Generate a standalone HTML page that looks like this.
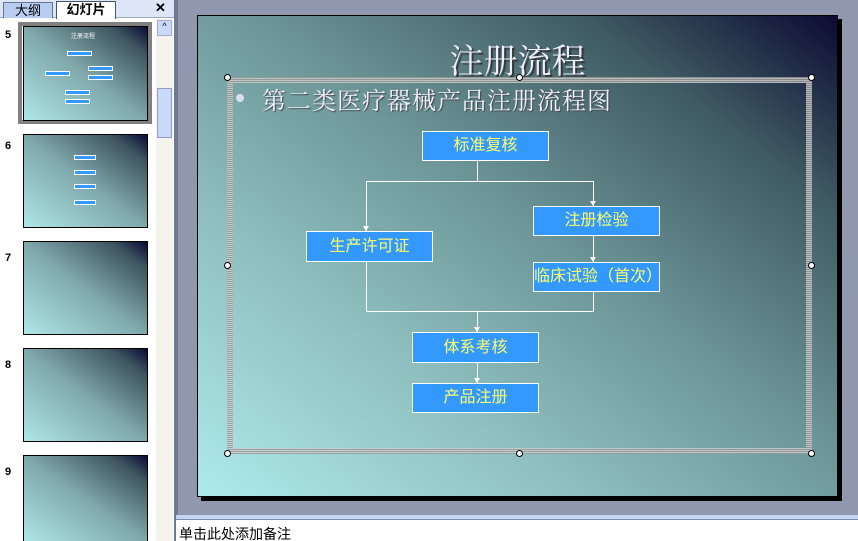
<!DOCTYPE html>
<html><head><meta charset="utf-8"><style>
*{margin:0;padding:0;box-sizing:border-box}
html,body{width:858px;height:541px;overflow:hidden}
body{position:relative;background:#8f98ae;font-family:"Liberation Sans","Noto Sans CJK SC",sans-serif}
.abs{position:absolute}
.thumb{position:absolute;left:23px;width:125px;background:linear-gradient(to top right,#aee6e6 0%,#7fa8aa 50%,#3e5560 85%,#0a0a35 100%);border:1px solid #000;overflow:hidden}
.num{position:absolute;left:5px;font-size:11px;font-weight:bold;color:#000}
.box{position:absolute;background:#3399ff;border:1px solid #fff;color:#ffff66;font-size:16px;text-align:center;font-family:"Liberation Sans","WenQuanYi Zen Hei",sans-serif}
.ln{position:absolute;background:#fff}
.ar{position:absolute;width:0;height:0;border-left:3px solid transparent;border-right:3px solid transparent;border-top:5px solid #fff}
.h{position:absolute;width:7px;height:7px;border-radius:50%;background:#fff;border:1px solid #000}
.tb{position:absolute;background:#3399ff;border:1px solid #fff;height:5px}
</style></head><body>
<!-- left panel -->
<div class="abs" style="left:0;top:0;width:174px;height:541px;background:#fff"></div>
<div class="abs" style="left:0;top:0;width:174px;height:18px;background:#dce6f7;border-bottom:1px solid #9ab"></div>
<div class="abs" style="left:3px;top:2px;width:50px;height:16px;background:#b8cdf0;border:1px solid #678;border-bottom:none;font-size:13px;text-align:center;line-height:15px">大纲</div>
<div class="abs" style="left:56px;top:1px;width:60px;height:18px;background:#fff;border:1px solid #456;border-bottom:none;font-size:13px;font-weight:bold;text-align:center;line-height:16px">幻灯片</div>
<div class="abs" style="left:155px;top:0;font-size:13px;font-weight:bold">✕</div>
<div class="abs" style="left:156px;top:19px;width:17px;height:522px;background:#f4f3ee"></div>
<div class="abs" style="left:157px;top:20px;width:15px;height:16px;background:#c8daf8;border:1px solid #aac;font-size:9px;text-align:center">^</div>
<div class="abs" style="left:157px;top:88px;width:15px;height:50px;background:#c8daf8;border:1px solid #99b"></div>
<div class="abs" style="left:174px;top:0;width:4px;height:541px;background:#6f7894"></div>

<div class="abs" style="left:18px;top:22px;width:134px;height:102px;border:4px solid #808080"></div>
<div class="num" style="top:29px">5</div>
<div class="thumb" style="top:26px;height:95px">
 <div class="abs" style="left:47px;top:4px;font-size:6px;color:#fff">注册流程</div>
 <div class="tb" style="left:43px;top:24px;width:25px"></div>
 <div class="tb" style="left:21px;top:44px;width:25px"></div>
 <div class="tb" style="left:64px;top:39px;width:25px"></div>
 <div class="tb" style="left:64px;top:48px;width:25px"></div>
 <div class="tb" style="left:41px;top:63px;width:25px"></div>
 <div class="tb" style="left:41px;top:72px;width:25px"></div>
</div>
<div class="num" style="top:140px">6</div>
<div class="thumb" style="top:134px;height:94px">
 <div class="tb" style="left:50px;top:20px;width:22px"></div>
 <div class="tb" style="left:50px;top:35px;width:22px"></div>
 <div class="tb" style="left:50px;top:49px;width:22px"></div>
 <div class="tb" style="left:50px;top:65px;width:22px"></div>
</div>
<div class="num" style="top:252px">7</div>
<div class="thumb" style="top:241px;height:94px"></div>
<div class="num" style="top:359px">8</div>
<div class="thumb" style="top:348px;height:94px"></div>
<div class="num" style="top:466px">9</div>
<div class="thumb" style="top:455px;height:86px;border-bottom:none"></div>

<!-- slide -->
<div class="abs" style="left:201px;top:19px;width:641px;height:482px;background:#000"></div>
<div class="abs" style="left:197px;top:15px;width:641px;height:482px;border:1px solid #000;background:linear-gradient(to top right,#aeeaea 0%,#8fbfbf 30%,#6b9496 55%,#3f5a62 80%,#0b0b33 100%)"></div>
<div class="abs" style="left:197px;top:34px;width:641px;text-align:center;font-size:34px;color:#eef;text-shadow:2px 2px 1px #333;font-family:'Liberation Serif','Noto Serif CJK SC',serif">注册流程</div>

<!-- selection frame -->
<div class="abs" style="left:227px;top:77px;width:585px;height:377px;border:6px solid transparent;border-image:repeating-linear-gradient(0deg,#999 0 1px,#ccc 1px 2px) 6;opacity:.85"></div>
<div class="h" style="left:224px;top:74px"></div><div class="h" style="left:516px;top:74px"></div><div class="h" style="left:808px;top:74px"></div>
<div class="h" style="left:224px;top:262px"></div><div class="h" style="left:808px;top:262px"></div>
<div class="h" style="left:224px;top:450px"></div><div class="h" style="left:516px;top:450px"></div><div class="h" style="left:808px;top:450px"></div>

<div class="abs" style="left:236px;top:94px;width:8px;height:8px;border-radius:50%;background:#dde"></div>
<div class="abs" style="left:262px;top:81px;font-size:24px;color:#f0f0ff;text-shadow:1px 1px 1px #444;letter-spacing:1px;font-family:'Liberation Serif','Noto Serif CJK SC',serif">第二类医疗器械产品注册流程图</div>

<!-- lines -->
<div class="ln" style="left:477px;top:161px;width:1px;height:21px"></div>
<div class="ln" style="left:366px;top:181px;width:228px;height:1px"></div>
<div class="ln" style="left:366px;top:181px;width:1px;height:50px"></div>
<div class="ln" style="left:593px;top:181px;width:1px;height:25px"></div>
<div class="ln" style="left:593px;top:236px;width:1px;height:26px"></div>
<div class="ln" style="left:366px;top:262px;width:1px;height:50px"></div>
<div class="ln" style="left:593px;top:292px;width:1px;height:20px"></div>
<div class="ln" style="left:366px;top:311px;width:228px;height:1px"></div>
<div class="ln" style="left:477px;top:311px;width:1px;height:21px"></div>
<div class="ln" style="left:477px;top:363px;width:1px;height:20px"></div>
<div class="ar" style="left:363px;top:226px"></div>
<div class="ar" style="left:590px;top:201px"></div>
<div class="ar" style="left:590px;top:257px"></div>
<div class="ar" style="left:474px;top:327px"></div>
<div class="ar" style="left:474px;top:378px"></div>

<div class="box" style="left:422px;top:131px;width:127px;height:30px;line-height:28px">标准复核</div>
<div class="box" style="left:533px;top:206px;width:127px;height:30px;line-height:28px">注册检验</div>
<div class="box" style="left:306px;top:231px;width:127px;height:31px;line-height:29px">生产许可证</div>
<div class="box" style="left:533px;top:262px;width:127px;height:30px;line-height:28px">临床试验（首次）</div>
<div class="box" style="left:412px;top:332px;width:127px;height:31px;line-height:29px">体系考核</div>
<div class="box" style="left:412px;top:383px;width:127px;height:30px;line-height:28px">产品注册</div>

<!-- notes -->
<div class="abs" style="left:176px;top:515px;width:682px;height:4px;background:#c5d5f0"></div>
<div class="abs" style="left:176px;top:519px;width:682px;height:22px;background:#fff;border-top:1px solid #7a8aa8;font-size:14px;padding-left:3px;line-height:28px;overflow:hidden">单击此处添加备注</div>
</body></html>
